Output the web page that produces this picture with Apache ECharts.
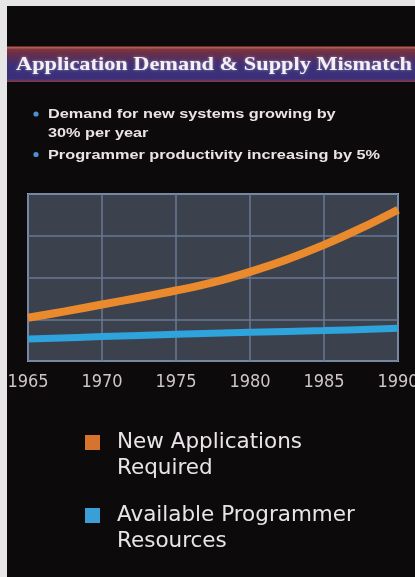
<!DOCTYPE html>
<html>
<head>
<meta charset="utf-8">
<script src="https://cdn.jsdelivr.net/npm/echarts@6/dist/echarts.min.js"></script>
<style>
html,body{margin:0;padding:0;background:#0d0a0b;}
#main{width:415px;height:577px;}
</style>
</head>
<body>
<div id="main"></div>
<script>
// ---- data ----
const titleText = 'Application Demand & Supply Mismatch';
const bulletLines = ['Demand for new systems growing by', '30% per year', 'Programmer productivity increasing by 5%'];
const xTickLabels = [1965, 1970, 1975, 1980, 1985, 1990];
const seriesNames = ['New Applications\nRequired', 'Available Programmer\nResources'];
const demandYears = [1965, 1967.5, 1970, 1972.5, 1975, 1977.5, 1980, 1982.5, 1985, 1987.5, 1990];
const demandValues = [25.9, 29.7, 33.8, 37.9, 42.2, 47.1, 53.4, 60.8, 69.5, 79.5, 90.6];
const supplyYears = [1965, 1970, 1975, 1980, 1985, 1990];
const supplyValues = [13.2, 14.6, 16.0, 17.2, 18.2, 19.6];

// ---- layout helpers ----
function measure(font, text) {
  const c = document.createElement('canvas').getContext('2d');
  c.font = font;
  return c.measureText(text).width;
}
const titleFont = 'bold 19px "Liberation Serif", serif';
const titleScale = 396 / measure(titleFont, titleText);
const bulletFont = 'bold 12.5px "Liberation Sans", sans-serif';
const bulletScale = 332 / measure(bulletFont, bulletLines[2]);

const bulletY = [115, 133.5, 155.5];
const bulletGraphics = [];
[0, 2].forEach(function (i) {
  bulletGraphics.push({
    type: 'circle', shape: { cx: 36, cy: bulletY[i] - 1, r: 2.6 },
    style: { fill: '#4d8fd6' }
  });
});
bulletLines.forEach(function (t, i) {
  bulletGraphics.push({
    type: 'text', x: 48, y: bulletY[i], scaleX: bulletScale,
    style: { text: t, x: 0, y: 0, align: 'left', verticalAlign: 'middle',
      font: bulletFont, fill: '#ece3e6' }
  });
});

const chart = echarts.init(document.getElementById('main'), null, { renderer: 'canvas' });
const option = {
  backgroundColor: '#0d0a0b',
  animation: false,
  grid: {
    left: 28, right: 17, top: 194, bottom: 216,
    outerBoundsMode: 'none', containLabel: false,
    show: true, backgroundColor: '#3b424e', borderColor: '#9fb2d2', borderWidth: 2
  },
  xAxis: {
    type: 'value',
    min: xTickLabels[0], max: xTickLabels[xTickLabels.length - 1],
    interval: xTickLabels[1] - xTickLabels[0],
    axisLine: { show: false }, axisTick: { show: false },
    splitLine: { show: true, lineStyle: { color: '#687894', width: 1.5 } },
    axisLabel: {
      color: '#cfc5c9', fontSize: 18, margin: 12,
      fontFamily: '"Liberation Sans Narrow", "DejaVu Sans Condensed", sans-serif',
      showMinLabel: true, showMaxLabel: true,
      formatter: function (v) { return String(v); }
    }
  },
  yAxis: {
    type: 'value', min: 0, max: 100, interval: 25,
    axisLabel: { show: false }, axisLine: { show: false }, axisTick: { show: false },
    splitLine: { show: true, lineStyle: { color: '#687894', width: 1.5 } }
  },
  legend: {
    orient: 'vertical', left: 85, top: 403.5, padding: 0,
    itemWidth: 15, itemHeight: 15, itemGap: -5,
    icon: 'rect', selectedMode: false,
    itemStyle: { borderWidth: 0 },
    formatter: function (name) { return '\n' + name; },
    textStyle: {
      color: '#e8e4e8', fontSize: 21.5, fontFamily: '"DejaVu Sans", sans-serif',
      lineHeight: 26, padding: [0, 0, 0, 12]
    },
    data: [
      { name: seriesNames[0], itemStyle: { color: '#d6732f' } },
      { name: seriesNames[1], itemStyle: { color: '#3b9fd6' } }
    ]
  },
  series: [
    {
      type: 'line', name: seriesNames[0], smooth: 0.4, showSymbol: false, z: 4,
      data: demandYears.map(function (y, i) { return [y, demandValues[i]]; }),
      lineStyle: { width: 8, color: '#eb8a2c', cap: 'butt' },
      itemStyle: { color: '#eb8a2c' }
    },
    {
      type: 'line', name: seriesNames[1], smooth: 0.4, showSymbol: false, z: 3,
      data: supplyYears.map(function (y, i) { return [y, supplyValues[i]]; }),
      lineStyle: { width: 7, color: '#2ea3dc', cap: 'butt' },
      itemStyle: { color: '#2ea3dc' }
    }
  ],
  graphic: [
    { type: 'rect', shape: { x: 0, y: 0, width: 7, height: 577 }, style: { fill: '#e6e6e6' }, z: 10 },
    { type: 'rect', shape: { x: 0, y: 0, width: 415, height: 6 }, style: { fill: '#e6e6e6' }, z: 10 },
    {
      type: 'rect', shape: { x: 7, y: 47, width: 408, height: 35 },
      style: {
        fill: {
          type: 'linear', x: 0, y: 0, x2: 0, y2: 1,
          colorStops: [
            { offset: 0, color: '#8a3a3a' },
            { offset: 0.18, color: '#6a2f48' },
            { offset: 0.5, color: '#3f2f76' },
            { offset: 0.9, color: '#38307a' },
            { offset: 1, color: '#8a3a4a' }
          ]
        }
      }
    },
    { type: 'rect', shape: { x: 7, y: 46.5, width: 408, height: 2 }, style: { fill: '#b45a55' } },
    {
      type: 'text', x: 214, y: 65.5, scaleX: titleScale,
      style: {
        text: titleText, x: 0, y: 0, align: 'center', verticalAlign: 'middle',
        font: titleFont, fill: '#f4f0f4',
        textShadowColor: 'rgba(255,255,255,0.45)', textShadowBlur: 3
      }
    }
  ].concat(bulletGraphics)
};
chart.setOption(option);
</script>
</body>
</html>
